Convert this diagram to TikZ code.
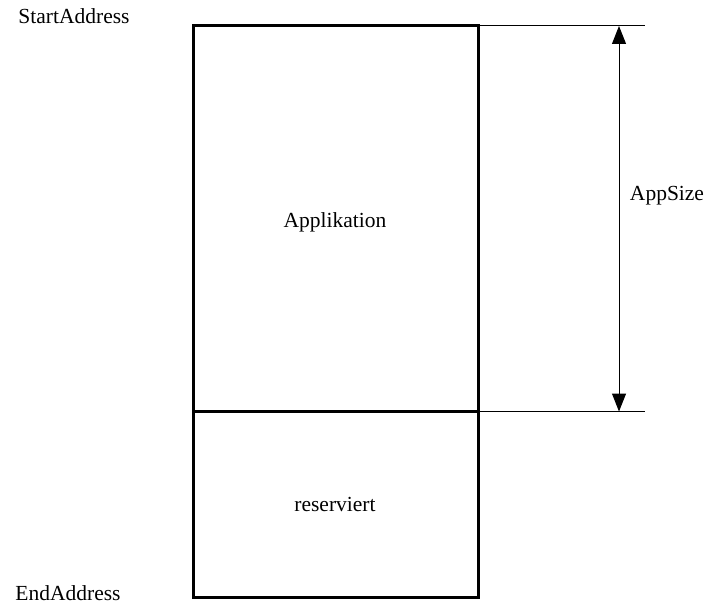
\documentclass[tikz,border=0pt]{standalone}
\usepackage{fontspec}
\setmainfont{Liberation Serif}
\usetikzlibrary{positioning,arrows.meta}

\begin{document}
\begin{tikzpicture}[x=1pt,y=-1pt,
    every node/.style={font=\fontsize{21.5}{26}\selectfont},
    memblock/.style={draw, line width=3pt, minimum width=285pt, inner sep=0pt, outer sep=0pt},
    thin/.style={line width=1pt}]
  \useasboundingbox (0,0) rectangle (708,604);
  % Tell it where the blocks are
  \node (app) [memblock, minimum height=385.5pt] at (335.5,218.75) {};
  \node (res) [memblock, minimum height=185.5pt] at (335.5,504.25) {};
  \node (apptxt) at (335,222) {Applikation};
  \node (restxt) at (335,504) {reserviert};
  % Address labels
  \node (start) at (74,16) {StartAddress};
  \node (end) at (68,593) {EndAddress};
  % Size dimension
  \coordinate (topend) at (645,26);
  \coordinate (botend) at (645,411.5);
  \coordinate (atop) at (619,26);
  \coordinate (abot) at (619,411.5);
  \draw[thin] (app.north east) -- (topend);
  \draw[thin] (app.south east) -- (botend);
  \draw[thin, {Triangle[length=18pt,width=14pt]}-{Triangle[length=18pt,width=14pt]}] (atop) -- (abot);
  \node (size) at (667,196) {AppSize};
\end{tikzpicture}
\end{document}
